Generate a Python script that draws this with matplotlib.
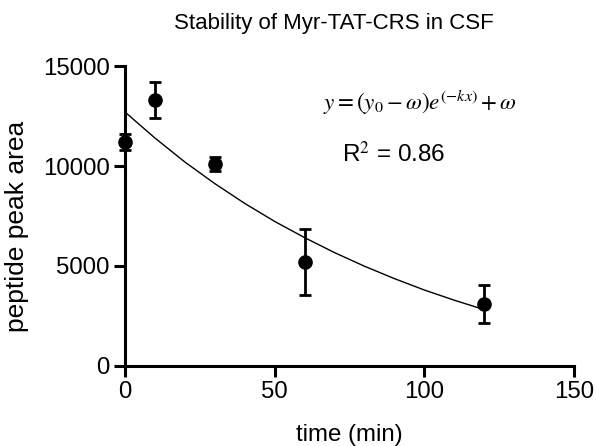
import matplotlib.pyplot as plt

plt.rcParams['font.family'] = ['Liberation Sans', 'DejaVu Sans']
plt.rcParams['mathtext.fontset'] = 'stix'

# measured points (mean, error)
time = [0, 10, 30, 60, 120]
area = [11200, 13300, 10100, 5200, 3100]
err = [420, 900, 350, 1630, 950]

# fitted one-phase decay curve
fit_t = [0, 10, 20, 30, 40, 50, 60, 70, 80, 90, 100, 110, 120]
fit_y = [12700, 11400, 10200, 9120, 8130, 7230, 6420, 5670, 4990, 4370, 3800, 3290, 2820]

fig = plt.figure(figsize=(5.96, 4.46), dpi=100)
ax = fig.add_axes([0.2097, 0.1794, 0.7533, 0.6726])

ax.plot(fit_t, fit_y, color='black', lw=1.0)
ax.errorbar(time, area, yerr=err, fmt='o', color='black', ms=9.5,
            elinewidth=2, capsize=4, capthick=2, clip_on=False, zorder=5)

ax.set_xlim(0, 150)
ax.set_ylim(0, 15000)
ax.set_xticks([0, 50, 100, 150])
ax.set_yticks([0, 5000, 10000, 15000])
for s in ['top', 'right']:
    ax.spines[s].set_visible(False)
for s in ['left', 'bottom']:
    ax.spines[s].set_linewidth(2.2)
ax.tick_params(width=2.2, length=8, labelsize=17.3, pad=3)

ax.set_xlabel('time (min)', fontsize=17.3)
ax.set_ylabel('peptide peak area', fontsize=19)
ax.xaxis.set_label_coords(0.5, -0.195)
ax.yaxis.set_label_coords(-0.214, 0.465)
fig.text(0.56, 0.948, 'Stability of Myr-TAT-CRS in CSF', ha='center', va='center', fontsize=16)

ax.text(0.657, 0.877, r'$y = (y_0 - \omega)e^{(-kx)} + \omega$', transform=ax.transAxes,
        ha='center', va='center', fontsize=16.6)
ax.text(0.599, 0.707, r'R$^2$ = 0.86', transform=ax.transAxes,
        ha='center', va='center', fontsize=17.5)

fig.savefig('out.png', dpi=100)
